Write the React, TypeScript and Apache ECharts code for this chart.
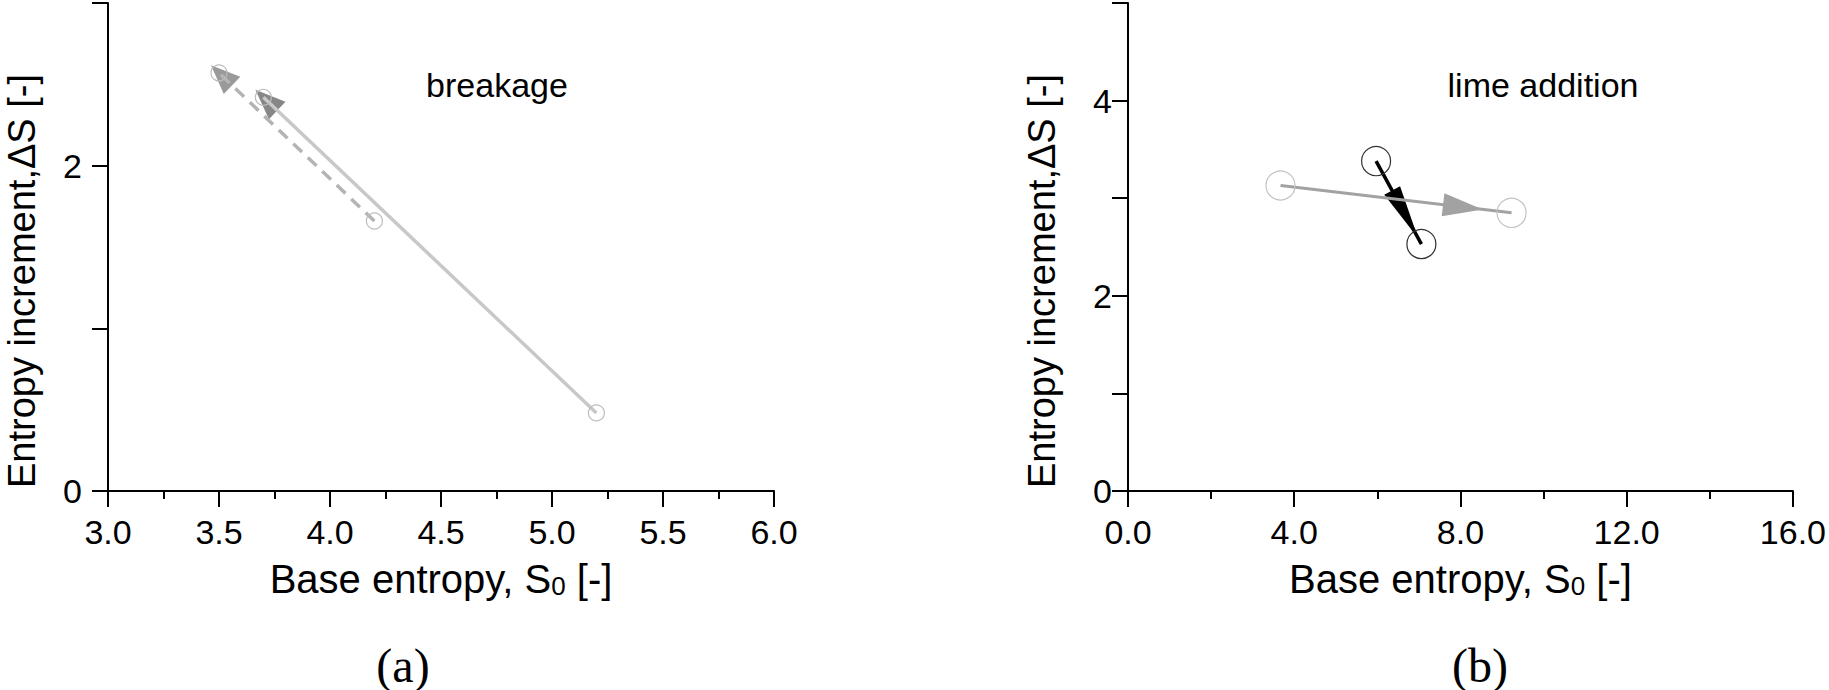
import React, { useEffect, useRef } from "react";
import * as echarts from "echarts";

// ---- data ----
// (a) breakage
const breakageDashedX = [4.2, 3.5];
const breakageDashedY = [1.66, 2.57];
const breakageSolidX = [5.2, 3.7];
const breakageSolidY = [0.48, 2.42];
// (b) lime addition
const limeGreyX = [3.67, 9.23];
const limeGreyY = [3.13, 2.85];
const limeBlackX = [5.97, 7.06];
const limeBlackY = [3.38, 2.53];

// axes
const leftXRange = [3, 6];
const leftXStep = 0.5;
const leftYRange = [0, 3];
const leftYLabels = [0, 2];
const rightXRange = [0, 16];
const rightXStep = 4;
const rightYRange = [0, 5];
const rightYLabels = [0, 2, 4];

const xTitle = "{m|Base entropy, S}{s|0}{m| [-]}";
const yTitle = "Entropy increment,\u0394S [-]";
const panelNotes = ["breakage", "lime addition"];
const panelTags = ["(a)", "(b)"];

const SANS = '"Liberation Sans", Arial, Helvetica, sans-serif';
const SERIF = '"Liberation Serif", "Times New Roman", serif';

const pts = (xs: number[], ys: number[]) => xs.map((x, i) => [x, ys[i]]);
const seg = (xs: number[], ys: number[]) => [[xs[0], ys[0], xs[1], ys[1]]];

type ArrowCfg = { tipOffset: number; len: number; width: number; color: string };

const arrowSeries = (
  xs: number[],
  ys: number[],
  cfg: ArrowCfg,
  axisIndex: number
) => ({
  type: "custom",
  xAxisIndex: axisIndex,
  yAxisIndex: axisIndex,
  silent: true,
  dimensions: ["x0", "y0", "x1", "y1"],
  encode: { x: [0, 2], y: [1, 3] },
  data: seg(xs, ys),
  renderItem: (params: any, api: any) => {
    const p0 = api.coord([api.value(0), api.value(1)]);
    const p1 = api.coord([api.value(2), api.value(3)]);
    const dx = p1[0] - p0[0];
    const dy = p1[1] - p0[1];
    const L = Math.hypot(dx, dy) || 1;
    const ux = dx / L;
    const uy = dy / L;
    const tip = [p1[0] + ux * cfg.tipOffset, p1[1] + uy * cfg.tipOffset];
    const base = [tip[0] - ux * cfg.len, tip[1] - uy * cfg.len];
    const nx = -uy * (cfg.width / 2);
    const ny = ux * (cfg.width / 2);
    return {
      type: "polygon",
      shape: {
        points: [tip, [base[0] + nx, base[1] + ny], [base[0] - nx, base[1] - ny]],
      },
      style: { fill: cfg.color },
      silent: true,
    };
  },
});

const lineSeries = (
  xs: number[],
  ys: number[],
  axisIndex: number,
  lineColor: string,
  lineWidth: number,
  lineType: any,
  circleSize: number,
  circleColor: string
) => ({
  type: "line",
  xAxisIndex: axisIndex,
  yAxisIndex: axisIndex,
  data: pts(xs, ys),
  silent: true,
  showSymbol: true,
  showAllSymbol: true,
  symbol: "circle",
  symbolSize: circleSize,
  lineStyle: { color: lineColor, width: lineWidth, type: lineType },
  itemStyle: { color: "rgba(0,0,0,0)", borderColor: circleColor, borderWidth: 1.2 },
  emphasis: { disabled: true },
  z: 3,
});

const xAxisCommon = (gridIndex: number, range: number[], step: number) => ({
  gridIndex,
  type: "value",
  min: range[0],
  max: range[1],
  interval: step,
  axisLine: { show: true, onZero: false, lineStyle: { color: "#000", width: 2 } },
  axisTick: { show: true, inside: false, length: 16, lineStyle: { color: "#000", width: 2 } },
  minorTick: { show: true, splitNumber: 2, length: 8, lineStyle: { color: "#000", width: 2 } },
  splitLine: { show: false },
  minorSplitLine: { show: false },
  axisLabel: {
    show: true,
    color: "#000",
    fontSize: 34,
    fontFamily: SANS,
    margin: 24,
    formatter: (v: number) => v.toFixed(1),
  },
  name: xTitle,
  nameLocation: "middle",
  nameGap: 68,
  nameTextStyle: {
    color: "#000",
    fontSize: 40,
    fontFamily: SANS,
    rich: {
      m: { fontSize: 40, fontFamily: SANS, color: "#000" },
      s: { fontSize: 26, fontFamily: SANS, color: "#000", verticalAlign: "bottom", lineHeight: 10 },
    },
  },
});

const yAxisCommon = (gridIndex: number, range: number[], labels: number[], margin: number) => ({
  gridIndex,
  type: "value",
  min: range[0],
  max: range[1],
  interval: 1,
  axisLine: { show: true, onZero: false, lineStyle: { color: "#000", width: 2 } },
  axisTick: { show: true, inside: false, length: 16, lineStyle: { color: "#000", width: 2 } },
  splitLine: { show: false },
  axisLabel: {
    show: true,
    color: "#000",
    fontSize: 34,
    fontFamily: SANS,
    margin,
    showMinLabel: true,
    showMaxLabel: true,
    formatter: (v: number) => (labels.includes(v) ? String(v) : ""),
  },
});

const textEl = (
  text: string,
  x: number,
  y: number,
  fontSize: number,
  fontFamily: string,
  rotation = 0
) => ({
  type: "text",
  x,
  y,
  rotation,
  silent: true,
  style: {
    text,
    fontSize,
    fontFamily,
    fill: "#000",
    align: "center",
    verticalAlign: "middle",
    textAlign: "center",
    textVerticalAlign: "middle",
  },
});

export default function App() {
  const ref = useRef<HTMLDivElement>(null);

  useEffect(() => {
    document.body.style.margin = "0";
    if (!ref.current) return;
    const chart = echarts.init(ref.current, undefined, { renderer: "svg" });

    const option: any = {
      animation: false,
      backgroundColor: "#fff",
      grid: [
        { left: 108, top: 3, width: 666, height: 488, containLabel: false },
        { left: 1128, top: 3, width: 667, height: 488, containLabel: false },
      ],
      xAxis: [xAxisCommon(0, leftXRange, leftXStep), xAxisCommon(1, rightXRange, rightXStep)],
      yAxis: [yAxisCommon(0, leftYRange, leftYLabels, 26), yAxisCommon(1, rightYRange, rightYLabels, 16)],
      series: [
        // (a) breakage: arrows below lines
        arrowSeries(breakageDashedX, breakageDashedY, { tipOffset: 11, len: 29, width: 24, color: "#9a9a9a" }, 0),
        arrowSeries(breakageSolidX, breakageSolidY, { tipOffset: 11, len: 30, width: 24, color: "#878787" }, 0),
        lineSeries(breakageSolidX, breakageSolidY, 0, "#c8c8c8", 3.5, "solid", 16, "#bdbdbd"),
        lineSeries(breakageDashedX, breakageDashedY, 0, "#b4b4b4", 3.5, [12, 8], 16, "#bdbdbd"),
        // (b) lime addition
        arrowSeries(limeBlackX, limeBlackY, { tipOffset: -7, len: 54, width: 18, color: "#000" }, 1),
        lineSeries(limeBlackX, limeBlackY, 1, "#000", 3.5, "solid", 29, "#333"),
        arrowSeries(limeGreyX, limeGreyY, { tipOffset: -29, len: 40, width: 23, color: "#a2a2a2" }, 1),
        lineSeries(limeGreyX, limeGreyY, 1, "#a2a2a2", 3, "solid", 29, "#c2c2c2"),
      ],
      graphic: [
        textEl(yTitle, 21.5, 281, 38, SANS, Math.PI / 2),
        textEl(yTitle, 1042, 281, 38, SANS, Math.PI / 2),
        textEl(panelNotes[0], 497, 85, 34, SANS),
        textEl(panelNotes[1], 1543, 85, 34, SANS),
        textEl(panelTags[0], 403, 665, 48, SERIF),
        textEl(panelTags[1], 1480, 665, 48, SERIF),
      ],
    };

    chart.setOption(option);
    return () => chart.dispose();
  }, []);

  return (
    <div
      ref={ref}
      style={{ position: "fixed", left: 0, top: 0, width: 1829, height: 690, background: "#fff" }}
    />
  );
}
